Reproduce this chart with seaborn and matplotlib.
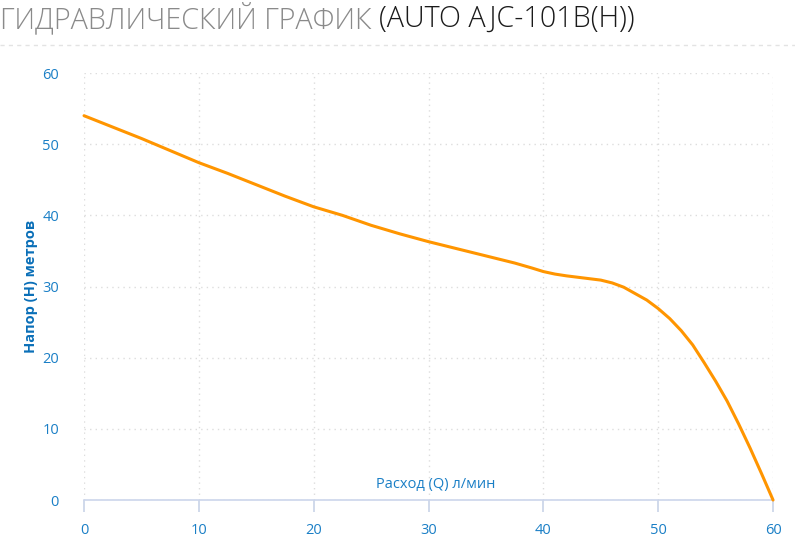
import matplotlib
matplotlib.use("Agg")
import matplotlib.pyplot as plt
import seaborn as sns
import pandas as pd

# Values
flow = [0, 2.5, 5, 7.5, 10, 12.5, 15, 17.5, 20, 22.5, 25, 27.5, 30, 32.5, 35,
        37.5, 39, 40, 41, 42, 43, 44, 45, 46, 47, 48, 49, 50, 51, 52, 53, 54,
        55, 56, 57, 58, 59, 60]
head = [54.0, 52.4, 50.8, 49.1, 47.4, 45.9, 44.3, 42.7, 41.2, 40.0, 38.6, 37.4,
        36.3, 35.3, 34.3, 33.3, 32.6, 32.1, 31.75, 31.5, 31.3, 31.1, 30.9, 30.5,
        29.9, 29.0, 28.1, 26.9, 25.5, 23.8, 21.8, 19.3, 16.7, 13.9, 10.7, 7.3,
        3.7, 0.0]
x_ticks = [0, 10, 20, 30, 40, 50, 60]
y_ticks = [0, 10, 20, 30, 40, 50, 60]

df = pd.DataFrame({"Q": flow, "H": head})

sns.set_style("white")
plt.rcParams["font.family"] = ["Open Sans", "DejaVu Sans"]

blue = "#1a7fc6"
fig = plt.figure(figsize=(7.95, 5.38), dpi=100)
ax = fig.add_axes([0.1057, 0.0706, 0.8667, 0.7937])

sns.lineplot(data=df, x="Q", y="H", color="#ff9500", linewidth=2.2, ax=ax)
for ln in ax.lines:
    ln.set_clip_on(False)
    ln.set_zorder(5)

ax.set_xlim(0, 60)
ax.set_ylim(0, 60)
ax.set_xticks(x_ticks)
ax.set_yticks(y_ticks)
ax.grid(True, color="#dddddd", linestyle=(0, (1, 3)), linewidth=1)
for s in ["top", "right", "left"]:
    ax.spines[s].set_visible(False)
ax.spines["bottom"].set_color("#ccd6eb")
ax.spines["bottom"].set_linewidth(1.2)
ax.tick_params(axis="x", bottom=True, direction="out", colors="#c4cfe6",
               length=8.5, width=1.1, pad=8, labelcolor=blue, labelsize=10.5)
ax.tick_params(axis="y", left=False, length=0, pad=18, labelcolor=blue,
               labelsize=10.5)
ax.set_xlabel("")
ax.set_ylabel("Напор (H) метров", color="#0a6fb8", fontsize=10.5,
              fontweight="bold", labelpad=3)
ax.text(0.51, 0.018, "Расход (Q) л/мин", transform=ax.transAxes, ha="center",
        va="bottom", color=blue, fontsize=10.5)

# title in two colours, sized to span the same width as the reference
title_y = 0.9647
size = 22
t1 = fig.text(0.0, title_y, "ГИДРАВЛИЧЕСКИЙ ГРАФИК ", color="#8a8a8a",
              fontsize=size, fontweight="light", va="center", ha="left")
t2 = fig.text(0.0, title_y, "(AUTO AJC-101B(H))", color="#1a1a1a",
              fontsize=size, fontweight="light", va="center", ha="left")
fig.canvas.draw()
total = t1.get_window_extent().width + t2.get_window_extent().width
size = size * 637 / total
t1.set_fontsize(size)
t2.set_fontsize(size)
fig.canvas.draw()
t2.set_x(t1.get_window_extent().x1 / fig.bbox.width)

fig.add_artist(plt.Line2D([0, 1], [0.9164, 0.9164], color="#e3e3e3",
                          linestyle=(0, (3, 3)), linewidth=1,
                          transform=fig.transFigure))

fig.savefig("out.png", dpi=100)
